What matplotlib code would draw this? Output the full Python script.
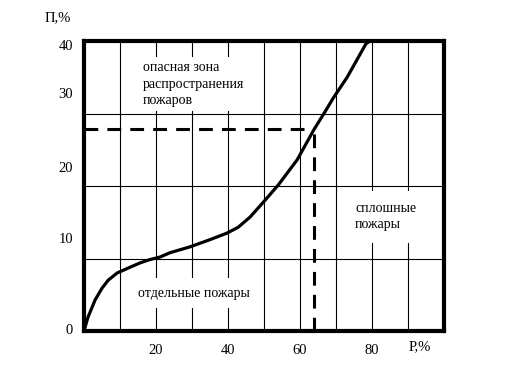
import matplotlib
matplotlib.use("Agg")
from matplotlib import pyplot as plt
from matplotlib.transforms import offset_copy

plt.rcParams['font.family'] = ['Liberation Serif', 'DejaVu Serif']

# кривая П(P)
p_vals = [0, 1.1, 3.1, 5.0, 6.7, 9.2, 11.9, 15.6, 18.3, 21.1, 23.9, 29.4, 35.0, 39.7,
          42.8, 46.1, 49.7, 53.9, 59.2, 63.9, 66.9, 69.2, 73.1, 78.3, 79.4]
pi_vals = [0, 1.9, 4.3, 5.9, 7.0, 8.0, 8.6, 9.4, 9.85, 10.2, 10.8, 11.6, 12.6, 13.5,
           14.3, 15.7, 17.7, 20.1, 23.6, 27.8, 30.2, 32.1, 35.0, 39.6, 40.0]

# точка на кривой (штриховые линии)
p_mark = 64
pi_mark = 27.9

x_ticks = [20, 40, 60, 80]
y_ticks = [0, 10, 20, 30, 40]
y_shift = [0, 19, 18, 19, -6]  # сдвиг подписей вверх, пикс.

fig = plt.figure(figsize=(5.12, 3.84), dpi=100)
ax = fig.add_axes([84/512, 1-331/384, 360/512, 290/384])
ax.set_xlim(0, 100)
ax.set_ylim(0, 40)

for s in ax.spines.values():
    s.set_linewidth(3)

ax.set_xticks(x_ticks)
ax.set_xticks(range(10, 100, 10), minor=True)
ax.set_yticks(y_ticks)
ax.set_yticklabels([])
ax.tick_params(which='both', length=0)
ax.tick_params(axis='x', labelsize=10.5, pad=9)
ax.grid(True, which='both', color='black', linewidth=0.8)
ax.set_axisbelow(True)

# подписи оси Y
for v, sh in zip(y_ticks, y_shift):
    tr = offset_copy(ax.get_yaxis_transform(), fig=fig, x=-11, y=sh, units='dots')
    ax.text(0, v, str(v), transform=tr, ha='right', va='center', fontsize=10.5)

ax.plot(p_vals, pi_vals, color='black', linewidth=2.3, solid_capstyle='round',
        solid_joinstyle='round', zorder=5)
ax.plot([0, p_mark], [pi_mark, pi_mark], color='black', linewidth=2.2,
        dashes=(4.5, 3), zorder=4)
ax.plot([p_mark, p_mark], [0, pi_mark], color='black', linewidth=2.2,
        dashes=(4.5, 3), zorder=4)

box = dict(facecolor='white', edgecolor='none', pad=3)
ax.text(16.4, 37.2, "опасная зона\nраспространения\nпожаров", fontsize=10,
        ha='left', va='top', linespacing=1.35, bbox=box, zorder=3)
ax.text(75.3, 17.8, "сплошные\nпожары", fontsize=10, ha='left', va='top',
        linespacing=1.35, bbox=dict(facecolor='white', edgecolor='none', pad=8),
        zorder=3)
ax.text(15, 5.2, "отдельные пожары", fontsize=10, ha='left', va='center',
        bbox=dict(facecolor='white', edgecolor='none', pad=6), zorder=3)

fig.text(58/512, 1-18/384, "П,%", fontsize=10.5, ha='center', va='center')
fig.text(420/512, 1-347/384, "P,%", fontsize=10.5, ha='center', va='center')

fig.savefig("out.png", dpi=100)
